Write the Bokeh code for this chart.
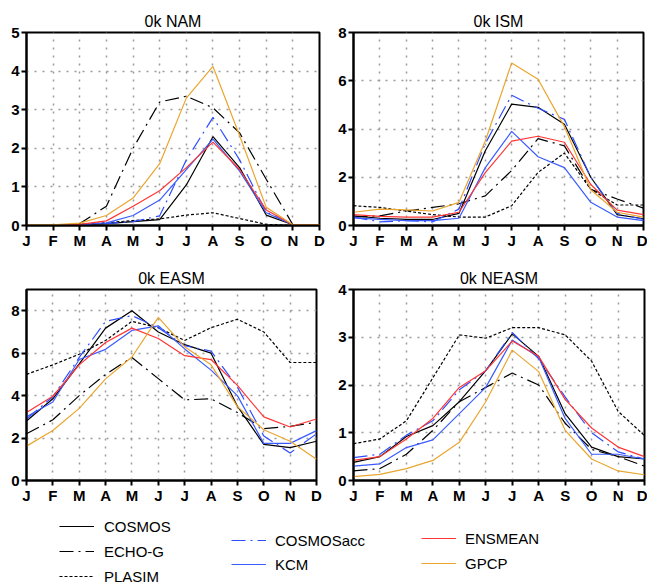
from bokeh.plotting import figure
from bokeh.models import Range1d, FixedTicker, Legend, LegendItem
from bokeh.layouts import column, row
from bokeh.embed import file_html
from bokeh.resources import INLINE

# ---------------- data ----------------
MONTHS = ["J", "F", "M", "A", "M", "J", "J", "A", "S", "O", "N", "D"]
SERIES = ["COSMOS", "ECHO-G", "PLASIM", "COSMOSacc", "KCM", "ENSMEAN", "GPCP"]

NAM_COSMOS    = [0.0, 0.0, 0.02, 0.05, 0.10, 0.15, 1.05, 2.30, 1.50, 0.27, 0.02, 0.0]
NAM_ECHOG     = [0.0, 0.0, 0.05, 0.50, 2.00, 3.20, 3.35, 3.05, 2.40, 1.20, 0.02, 0.0]
NAM_PLASIM    = [0.0, 0.0, 0.03, 0.07, 0.13, 0.17, 0.27, 0.33, 0.18, 0.03, 0.0, 0.0]
NAM_COSMOSACC = [0.0, 0.0, 0.02, 0.05, 0.10, 0.25, 1.70, 2.80, 1.70, 0.35, 0.02, 0.0]
NAM_KCM       = [0.0, 0.0, 0.02, 0.07, 0.26, 0.66, 1.45, 2.24, 1.41, 0.33, 0.02, 0.0]
NAM_ENSMEAN   = [0.0, 0.0, 0.03, 0.12, 0.50, 0.90, 1.50, 2.16, 1.45, 0.40, 0.02, 0.02]
NAM_GPCP      = [0.02, 0.02, 0.06, 0.26, 0.71, 1.60, 3.30, 4.12, 2.33, 0.47, 0.02, 0.02]

ISM_COSMOS    = [0.40, 0.30, 0.25, 0.25, 0.50, 3.10, 5.03, 4.90, 4.20, 2.00, 0.45, 0.28]
ISM_ECHOG     = [0.35, 0.40, 0.60, 0.75, 0.90, 1.23, 2.28, 3.60, 3.30, 1.50, 1.10, 0.72]
ISM_PLASIM    = [0.82, 0.75, 0.60, 0.45, 0.35, 0.35, 0.82, 2.20, 3.00, 1.50, 0.85, 0.85]
ISM_COSMOSACC = [0.35, 0.15, 0.20, 0.15, 0.68, 3.40, 5.40, 4.86, 4.40, 2.00, 0.50, 0.25]
ISM_KCM       = [0.32, 0.25, 0.20, 0.20, 0.30, 2.40, 3.90, 2.85, 2.40, 0.96, 0.35, 0.20]
ISM_ENSMEAN   = [0.45, 0.38, 0.35, 0.35, 0.55, 2.19, 3.50, 3.70, 3.45, 1.70, 0.64, 0.45]
ISM_GPCP      = [0.55, 0.68, 0.65, 0.60, 0.96, 3.50, 6.74, 6.06, 4.10, 1.48, 0.55, 0.35]

EASM_COSMOS    = [2.80, 3.85, 5.50, 7.18, 8.00, 7.00, 6.40, 6.00, 3.50, 1.70, 1.55, 1.85]
EASM_ECHOG     = [2.20, 2.86, 4.00, 5.00, 5.80, 4.80, 3.80, 3.85, 3.20, 2.44, 2.55, 2.75]
EASM_PLASIM    = [5.00, 5.45, 5.95, 6.60, 7.50, 7.20, 6.60, 7.20, 7.60, 7.00, 5.56, 5.56]
EASM_COSMOSACC = [2.90, 3.95, 5.80, 7.50, 7.77, 7.20, 6.35, 6.10, 4.40, 2.10, 1.30, 2.20]
EASM_KCM       = [3.00, 3.70, 5.70, 6.18, 7.07, 7.29, 6.20, 5.20, 4.00, 1.75, 1.75, 2.35]
EASM_ENSMEAN   = [3.20, 3.97, 5.45, 6.50, 7.18, 6.69, 5.88, 5.70, 4.48, 3.00, 2.52, 2.90]
EASM_GPCP      = [1.62, 2.36, 3.40, 4.79, 5.82, 7.69, 6.30, 5.45, 3.48, 2.39, 1.85, 1.00]

NEASM_COSMOS    = [0.38, 0.50, 0.92, 1.15, 1.65, 2.30, 3.07, 2.60, 1.40, 0.70, 0.50, 0.45]
NEASM_ECHOG     = [0.20, 0.25, 0.55, 1.05, 1.65, 1.95, 2.25, 2.00, 1.20, 0.65, 0.50, 0.30]
NEASM_PLASIM    = [0.77, 0.87, 1.25, 2.15, 3.05, 2.98, 3.20, 3.20, 3.05, 2.50, 1.45, 0.94]
NEASM_COSMOSACC = [0.48, 0.55, 0.95, 1.25, 1.90, 2.30, 3.10, 2.55, 1.75, 1.00, 0.60, 0.45]
NEASM_KCM       = [0.30, 0.35, 0.69, 0.85, 1.40, 1.95, 2.94, 2.58, 1.30, 0.55, 0.55, 0.45]
NEASM_ENSMEAN   = [0.42, 0.50, 0.87, 1.30, 1.95, 2.30, 2.92, 2.60, 1.70, 1.10, 0.70, 0.50]
NEASM_GPCP      = [0.08, 0.13, 0.25, 0.42, 0.80, 1.65, 2.73, 2.28, 1.05, 0.45, 0.20, 0.12]

# ---------------- styles ----------------
STYLE = {
    "COSMOS":    dict(line_color="black", line_dash="solid"),
    "ECHO-G":    dict(line_color="black", line_dash="14 5 2 5"),
    "PLASIM":    dict(line_color="black", line_dash="3 2"),
    "COSMOSacc": dict(line_color="#2f4fff", line_dash="14 5 2 5"),
    "KCM":       dict(line_color="#3a5cff", line_dash="solid"),
    "ENSMEAN":   dict(line_color="#ff3636", line_dash="solid"),
    "GPCP":      dict(line_color="#eaa52e", line_dash="solid"),
}

FONT = "Liberation Sans"
XIDX = list(range(len(MONTHS)))


def panel(title, series, ymax, yticks, width, height, ml, mr, mt, mb):
    p = figure(width=width, height=height, x_range=Range1d(0, 11), y_range=Range1d(0, ymax),
               output_backend="svg", toolbar_location=None,
               min_border_left=ml, min_border_right=mr, min_border_top=mt, min_border_bottom=mb)
    p.title.text = title
    p.title.align = "center"
    p.title.text_font = FONT
    p.title.text_font_size = "16px"
    p.title.text_font_style = "normal"
    p.title.text_color = "black"
    p.title.standoff = 6
    p.outline_line_color = "black"
    p.outline_line_width = 2
    p.outline_line_alpha = 1
    p.background_fill_color = "white"
    p.border_fill_color = "white"

    p.xaxis.ticker = FixedTicker(ticks=XIDX)
    p.xaxis.major_label_overrides = {i: m for i, m in enumerate(MONTHS)}
    p.yaxis.ticker = FixedTicker(ticks=yticks)
    for ax in (p.xaxis, p.yaxis):
        ax.major_label_text_font = FONT
        ax.major_label_text_font_size = "15px"
        ax.major_label_text_font_style = "bold"
        ax.major_label_text_color = "black"
        ax.major_tick_in = 0
        ax.major_tick_out = 5
        ax.major_tick_line_width = 2
        ax.minor_tick_line_color = None
        ax.axis_line_width = 2
    p.xaxis.major_label_standoff = 1
    p.yaxis.major_label_standoff = 2

    for g in (p.xgrid, p.ygrid):
        g.grid_line_color = "#9a9a9a"
        g.grid_line_dash = "2 6"
        g.grid_line_width = 1.5
    p.xgrid.ticker = FixedTicker(ticks=XIDX)
    p.ygrid.ticker = FixedTicker(ticks=yticks)

    for name in SERIES:
        p.line(XIDX, series[name], line_width=1.2, **STYLE[name])
    return p


p1 = panel("0k NAM", dict(zip(SERIES, [NAM_COSMOS, NAM_ECHOG, NAM_PLASIM, NAM_COSMOSACC,
                                       NAM_KCM, NAM_ENSMEAN, NAM_GPCP])),
           5, [0, 1, 2, 3, 4, 5], 335, 253, 26, 16, 30, 28)
p2 = panel("0k ISM", dict(zip(SERIES, [ISM_COSMOS, ISM_ECHOG, ISM_PLASIM, ISM_COSMOSACC,
                                       ISM_KCM, ISM_ENSMEAN, ISM_GPCP])),
           8, [0, 2, 4, 6, 8], 312, 253, 17, 4, 32, 26)
p3 = panel("0k EASM", dict(zip(SERIES, [EASM_COSMOS, EASM_ECHOG, EASM_PLASIM, EASM_COSMOSACC,
                                        EASM_KCM, EASM_ENSMEAN, EASM_GPCP])),
           9, [0, 2, 4, 6, 8], 335, 255, 26, 19, 32, 28)
p4 = panel("0k NEASM", dict(zip(SERIES, [NEASM_COSMOS, NEASM_ECHOG, NEASM_PLASIM, NEASM_COSMOSACC,
                                         NEASM_KCM, NEASM_ENSMEAN, NEASM_GPCP])),
           4, [0, 1, 2, 3, 4], 312, 255, 18, 3, 36, 26)

# ---------------- legend ----------------
lg = figure(width=647, height=75, x_range=Range1d(0, 1), y_range=Range1d(0, 1),
            x_axis_type=None, y_axis_type=None, output_backend="svg", toolbar_location=None,
            min_border_left=0, min_border_right=0, min_border_top=0, min_border_bottom=0)
lg.outline_line_color = None
lg.border_fill_color = "white"

NAN = [float("nan")]
rends = {name: lg.line(NAN, NAN, line_width=1.2, **STYLE[name]) for name in SERIES}


def make_legend(names, loc, spacing, standoff):
    return Legend(items=[LegendItem(label=n, renderers=[rends[n]]) for n in names],
                  location=loc, orientation="vertical", padding=0, margin=0,
                  spacing=spacing, glyph_width=35, glyph_height=18, label_height=18,
                  label_standoff=standoff, label_text_font=FONT, label_text_font_size="15px",
                  label_text_color="black", border_line_color=None, background_fill_alpha=0)


lg.add_layout(make_legend(["COSMOS", "ECHO-G", "PLASIM"], (59, -2), 7, 10), "center")
lg.add_layout(make_legend(["COSMOSacc", "KCM"], (231, 10), 6, 9), "center")
lg.add_layout(make_legend(["ENSMEAN", "GPCP"], (421, 11), 7, 9), "center")

layout = column(row(p1, p2), row(p3, p4), lg)

open("out.html", "w").write(file_html(layout, INLINE))
